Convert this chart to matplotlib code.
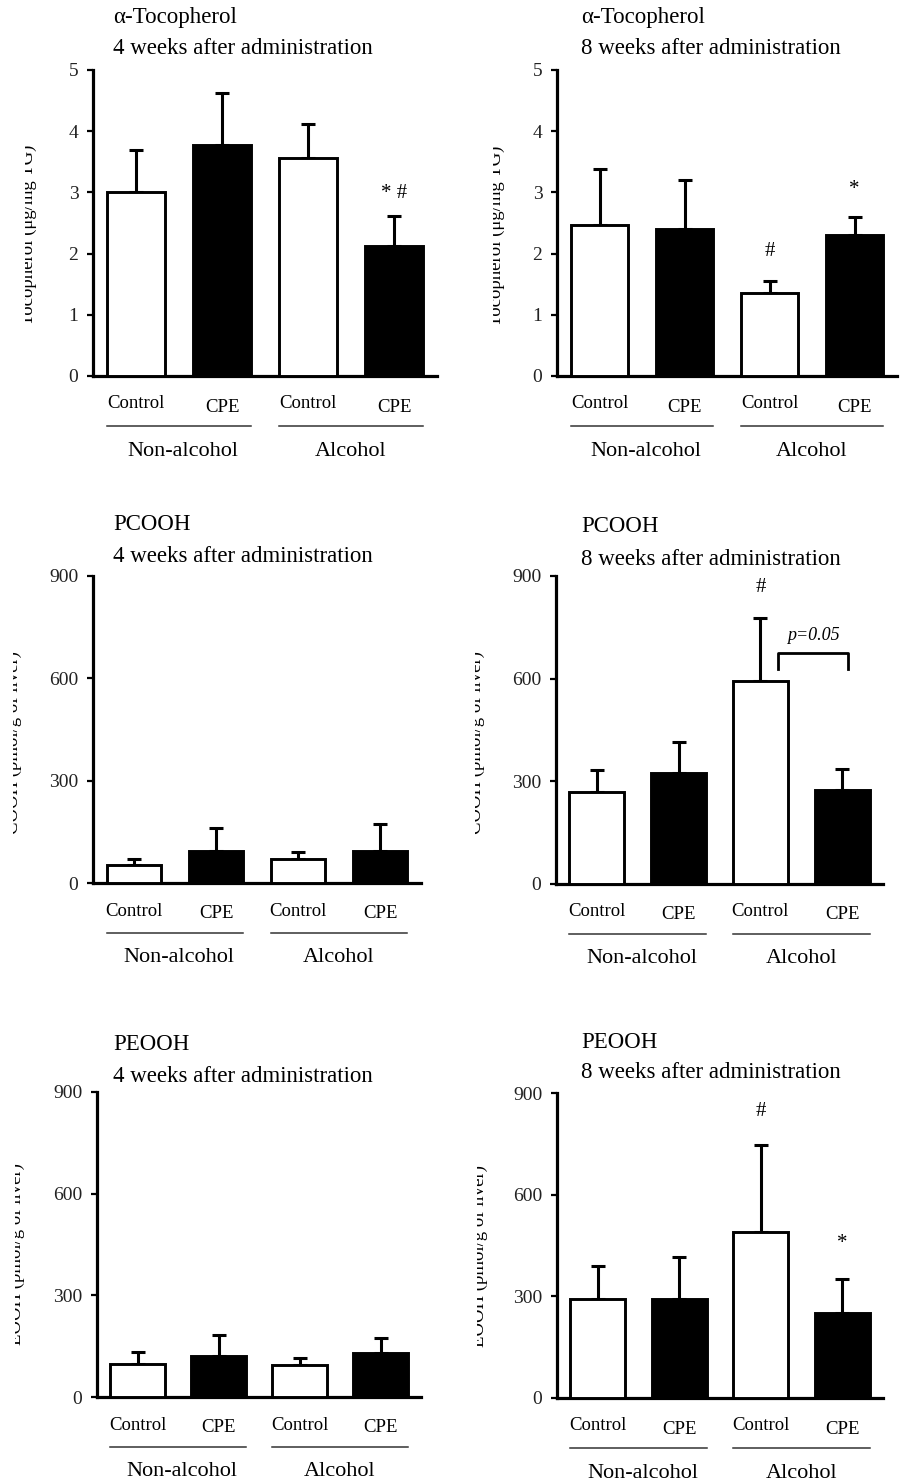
import matplotlib

matplotlib.use("Agg")
import matplotlib.pyplot as plt
from matplotlib.transforms import Bbox, TransformedBbox

plt.rcParams["font.family"] = ["Liberation Serif", "DejaVu Serif"]

W, H = 905, 1483

# ── data ──────────────────────────────────────────────────────
treatments = ["Control", "CPE", "Control", "CPE"]
groups = ["Non-alcohol", "Alcohol"]

toco4_mean = [3.00, 3.78, 3.57, 2.13]
toco4_err = [0.69, 0.84, 0.55, 0.48]
toco8_mean = [2.47, 2.40, 1.35, 2.30]
toco8_err = [0.92, 0.80, 0.20, 0.30]
pcooh4_mean = [53, 94, 71, 94]
pcooh4_err = [18, 66, 21, 78]
pcooh8_mean = [270, 324, 594, 275]
pcooh8_err = [62, 90, 183, 62]
peooh4_mean = [97, 122, 93, 131]
peooh4_err = [37, 61, 22, 43]
peooh8_mean = [292, 292, 490, 252]
peooh8_err = [98, 125, 256, 98]

toco_ticks = [0, 1, 2, 3, 4, 5]
ooh_ticks = [0, 300, 600, 900]

# panel: title lines, y label, data, ticks, annotations
panels = [
    dict(rect=(93, 70, 437, 376), title=("α-Tocopherol", "4 weeks after administration"),
         tpos=(113, 17, 48), ylabel="Tocopherol (μg/mg TG)", lab=(25, 37, 235),
         mean=toco4_mean, err=toco4_err, ticks=toco_ticks,
         marks=[(3, 2.98, "* #")]),
    dict(rect=(557, 70, 897, 376), title=("α-Tocopherol", "8 weeks after administration"),
         tpos=(581, 17, 48), ylabel="Tocopherol (μg/mg TG)", lab=(493, 505, 236),
         mean=toco8_mean, err=toco8_err, ticks=toco_ticks,
         marks=[(2, 2.03, "#"), (3, 3.05, "*")]),
    dict(rect=(93, 576, 421, 883), title=("PCOOH", "4 weeks after administration"),
         tpos=(113, 524, 557), ylabel="COOH (pmol/g of liver)", lab=(13, 22, 742),
         mean=pcooh4_mean, err=pcooh4_err, ticks=ooh_ticks, marks=[]),
    dict(rect=(556, 576, 883, 884), title=("PCOOH", "8 weeks after administration"),
         tpos=(581, 526, 560), ylabel="COOH (pmol/g of liver)", lab=(475, 485, 742),
         mean=pcooh8_mean, err=pcooh8_err, ticks=ooh_ticks,
         marks=[(2, 865, "#")], bracket=(2.22, 3.07, 628, 675, "p=0.05", 727)),
    dict(rect=(97, 1092, 421, 1397), title=("PEOOH", "4 weeks after administration"),
         tpos=(113, 1044, 1076), ylabel="EOOH (pmol/g of liver)", lab=(15, 25, 1254),
         mean=peooh4_mean, err=peooh4_err, ticks=ooh_ticks, marks=[]),
    dict(rect=(557, 1093, 883, 1398), title=("PEOOH", "8 weeks after administration"),
         tpos=(581, 1042, 1073), ylabel="EOOH (pmol/g of liver)", lab=(477, 488, 1256),
         mean=peooh8_mean, err=peooh8_err, ticks=ooh_ticks,
         marks=[(2, 846, "#"), (3, 456, "*")]),
]

fig = plt.figure(figsize=(W / 100, H / 100), dpi=100)

BAR_W = 0.67
face = ["white", "black", "white", "black"]
xs = list(range(4))

for p in panels:
    x0, y0, x1, y1 = p["rect"]
    ax = fig.add_axes([x0 / W, 1 - y1 / H, (x1 - x0) / W, (y1 - y0) / H])
    ax_h = y1 - y0

    ax.bar(xs, p["mean"], width=BAR_W, color=face, edgecolor="black",
           linewidth=2.1, zorder=3)
    ax.errorbar(xs, p["mean"], yerr=[[0] * 4, p["err"]], fmt="none",
                ecolor="black", elinewidth=2.2, capsize=5, capthick=2.2, zorder=2)

    ax.set_xlim(-0.5, 3.5)
    ax.set_ylim(0, p["ticks"][-1])
    ax.set_yticks(p["ticks"])
    ax.set_xticks([])
    for s in ("top", "right"):
        ax.spines[s].set_visible(False)
    for s in ("left", "bottom"):
        ax.spines[s].set_linewidth(2.3)
    ax.tick_params(axis="y", length=4.5, width=1.6, pad=6, labelsize=14,
                   labelcolor="#222")

    tr = ax.get_xaxis_transform()
    # treatment labels under each bar
    for i, t in enumerate(treatments):
        off = 28 if t == "Control" else 31
        ax.text(xs[i], -off / ax_h, t, transform=tr, ha="center", va="center",
                fontsize=13.5)
    # group lines and names
    for g, (a, b) in enumerate([(0, 1), (2, 3)]):
        ax.plot([xs[a] - BAR_W / 2, xs[b] + BAR_W / 2], [-50 / ax_h] * 2,
                transform=tr, color="#333", lw=1.1, clip_on=False)
        gx = (xs[a] + xs[b]) / 2 + (0.05 if g == 0 else 0)
        ax.text(gx, -75 / ax_h, groups[g], transform=tr, ha="center",
                va="center", fontsize=16)

    for mx, my, s in p["marks"]:
        ax.text(mx, my, s, ha="center", va="center", fontsize=15)

    if "bracket" in p:
        bl, br, lo, hi, txt, ty = p["bracket"]
        ax.plot([bl, bl, br, br], [lo, hi, hi, lo], color="black", lw=2.0,
                clip_on=False)
        ax.text((bl + br) / 2, ty, txt, ha="center", va="center",
                fontsize=13, style="italic")

    # titles
    tx, ty1, ty2 = p["tpos"]
    fig.text(tx / W, 1 - ty1 / H, p["title"][0], ha="left", va="center", fontsize=16.5)
    fig.text(tx / W, 1 - ty2 / H, p["title"][1], ha="left", va="center", fontsize=16.5)

    # y label, cut off on its left side as in the reference
    cx, rx, cy = p["lab"]
    yl = fig.text(rx / W, 1 - cy / H, p["ylabel"], rotation=90, ha="right",
                  va="center", fontsize=13.5)
    yl.set_clip_box(TransformedBbox(Bbox.from_extents(cx / W, 0, 1, 1),
                                    fig.transFigure))
    yl.set_clip_on(True)

fig.savefig("out.png", dpi=100)
